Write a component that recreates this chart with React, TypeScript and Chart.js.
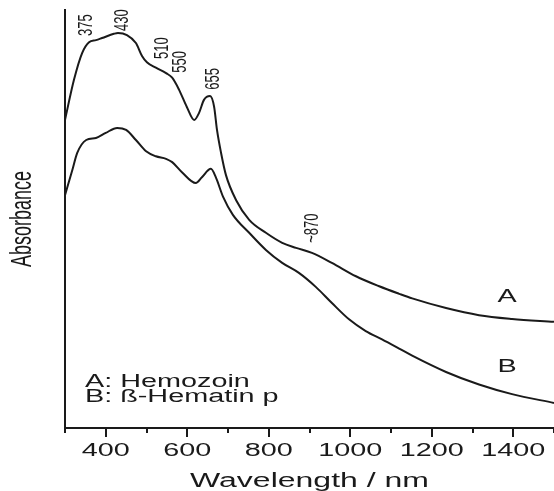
import React, { useEffect, useRef } from "react";
import { Chart, registerables } from "chart.js";

Chart.register(...registerables);

// Curve A: Hemozoin
const wavelengthsA = [300, 322, 342, 359, 376, 391, 420, 430, 452, 474, 489, 501, 523, 548, 563, 580, 599, 617, 629, 641, 656, 666, 673, 683, 695, 720, 752, 793, 833, 867, 906, 955, 1014, 1071, 1120, 1152, 1235, 1316, 1397, 1500];
const absorbanceA = [0.737, 0.833, 0.897, 0.923, 0.928, 0.933, 0.943, 0.945, 0.94, 0.921, 0.89, 0.875, 0.862, 0.849, 0.838, 0.809, 0.768, 0.737, 0.754, 0.785, 0.794, 0.768, 0.713, 0.658, 0.605, 0.545, 0.498, 0.467, 0.443, 0.431, 0.419, 0.395, 0.363, 0.339, 0.321, 0.31, 0.287, 0.27, 0.261, 0.254];

// Curve B: beta-Hematin
const wavelengthsB = [300, 318, 330, 352, 376, 400, 428, 450, 474, 499, 523, 548, 563, 587, 621, 636, 658, 670, 688, 712, 752, 793, 833, 874, 916, 955, 997, 1038, 1078, 1120, 1152, 1235, 1316, 1397, 1500];
const absorbanceB = [0.557, 0.617, 0.658, 0.689, 0.694, 0.706, 0.718, 0.713, 0.689, 0.662, 0.65, 0.644, 0.636, 0.612, 0.586, 0.6, 0.62, 0.6, 0.553, 0.51, 0.467, 0.426, 0.395, 0.371, 0.337, 0.299, 0.26, 0.232, 0.212, 0.19, 0.173, 0.134, 0.104, 0.081, 0.06];

const xTickValues = [300, 400, 500, 600, 700, 800, 900, 1000, 1100, 1200, 1300, 1400, 1500];
const xTickLabels = ["400", "600", "800", "1000", "1200", "1400"];
const xLabeledValues = [400, 600, 800, 1000, 1200, 1400];

const peakTexts = ["375", "430", "510", "550", "655", "~870"];
const peakX = [351, 440, 538, 582, 663, 906];
const peakY = [0.964, 0.976, 0.909, 0.876, 0.835, 0.478];

const curveNames = ["A", "B"];
const curveNameX = [1385, 1385];
const curveNameY = [0.313, 0.146];

const legendLines = ["A: Hemozoin", "B: ß-Hematin p"];
const legendX = 349;
const legendY = [0.111, 0.073];

const xTitle = "Wavelength / nm";
const yTitle = "Absorbance";

const SX = 1.6;
const FONT = '"Liberation Sans", Arial, Helvetica, sans-serif';
const INK = "#1a1a1a";

function drawText(ctx: CanvasRenderingContext2D, text: string, x: number, y: number, size: number, rotate: boolean, align: CanvasTextAlign) {
  ctx.save();
  ctx.translate(x, y);
  ctx.scale(SX, 1);
  if (rotate) ctx.rotate(-Math.PI / 2);
  ctx.font = `${size}px ${FONT}`;
  ctx.textAlign = align;
  ctx.textBaseline = "middle";
  ctx.fillStyle = INK;
  ctx.fillText(text, 0, 0);
  ctx.restore();
}

const decorPlugin = {
  id: "decor",
  afterDraw(chart: any) {
    const ctx: CanvasRenderingContext2D = chart.ctx;
    const xs = chart.scales.x;
    const ys = chart.scales.y;
    const area = chart.chartArea;
    ctx.save();
    ctx.strokeStyle = INK;
    ctx.lineWidth = 2;
    xTickValues.forEach((v) => {
      const px = Math.round(xs.getPixelForValue(v));
      const major = xLabeledValues.includes(v);
      ctx.beginPath();
      ctx.moveTo(px, area.bottom);
      ctx.lineTo(px, area.bottom + (major ? 9 : 5));
      ctx.stroke();
    });
    ctx.restore();
    xTickLabels.forEach((t, i) => {
      drawText(ctx, t, xs.getPixelForValue(xLabeledValues[i]), area.bottom + 23, 18, false, "center");
    });
    drawText(ctx, xTitle, (area.left + area.right) / 2, area.bottom + 53, 20, false, "center");
    drawText(ctx, yTitle, 23, (area.top + area.bottom) / 2, 18, true, "center");
    peakTexts.forEach((t, i) => {
      drawText(ctx, t, xs.getPixelForValue(peakX[i]), ys.getPixelForValue(peakY[i]), 13, true, "center");
    });
    curveNames.forEach((t, i) => {
      drawText(ctx, t, xs.getPixelForValue(curveNameX[i]), ys.getPixelForValue(curveNameY[i]), 18, false, "center");
    });
    legendLines.forEach((t, i) => {
      drawText(ctx, t, xs.getPixelForValue(legendX), ys.getPixelForValue(legendY[i]), 18, false, "left");
    });
  },
};

export default function App() {
  const canvasRef = useRef<HTMLCanvasElement | null>(null);

  useEffect(() => {
    if (!canvasRef.current) return;
    const chart = new Chart(canvasRef.current, {
      type: "line",
      data: {
        datasets: [
          {
            label: "A: Hemozoin",
            data: wavelengthsA.map((x, i) => ({ x, y: absorbanceA[i] })),
            borderColor: INK,
            borderWidth: 2,
            pointRadius: 0,
            cubicInterpolationMode: "monotone",
            fill: false,
          },
          {
            label: "B: ß-Hematin p",
            data: wavelengthsB.map((x, i) => ({ x, y: absorbanceB[i] })),
            borderColor: INK,
            borderWidth: 2,
            pointRadius: 0,
            cubicInterpolationMode: "monotone",
            fill: false,
          },
        ],
      },
      options: {
        animation: false,
        responsive: false,
        maintainAspectRatio: false,
        layout: { padding: { top: 10, right: 0, left: 0, bottom: 0 } },
        plugins: { legend: { display: false }, tooltip: { enabled: false } },
        scales: {
          x: {
            type: "linear",
            min: 300,
            max: 1500,
            ticks: { display: false },
            grid: { display: false },
            border: { display: true, color: INK, width: 2 },
            afterFit: (s: any) => {
              s.height = 63;
            },
          },
          y: {
            type: "linear",
            min: 0,
            max: 1,
            ticks: { display: false },
            grid: { display: false },
            border: { display: true, color: INK, width: 2 },
            afterFit: (s: any) => {
              s.width = 65;
            },
          },
        },
      },
      plugins: [decorPlugin],
    } as any);
    return () => chart.destroy();
  }, []);

  return (
    <div style={{ position: "fixed", left: 0, top: 0, width: 554, height: 491, background: "#fff" }}>
      <canvas ref={canvasRef} width={554} height={491} style={{ width: 554, height: 491, display: "block" }} />
    </div>
  );
}
